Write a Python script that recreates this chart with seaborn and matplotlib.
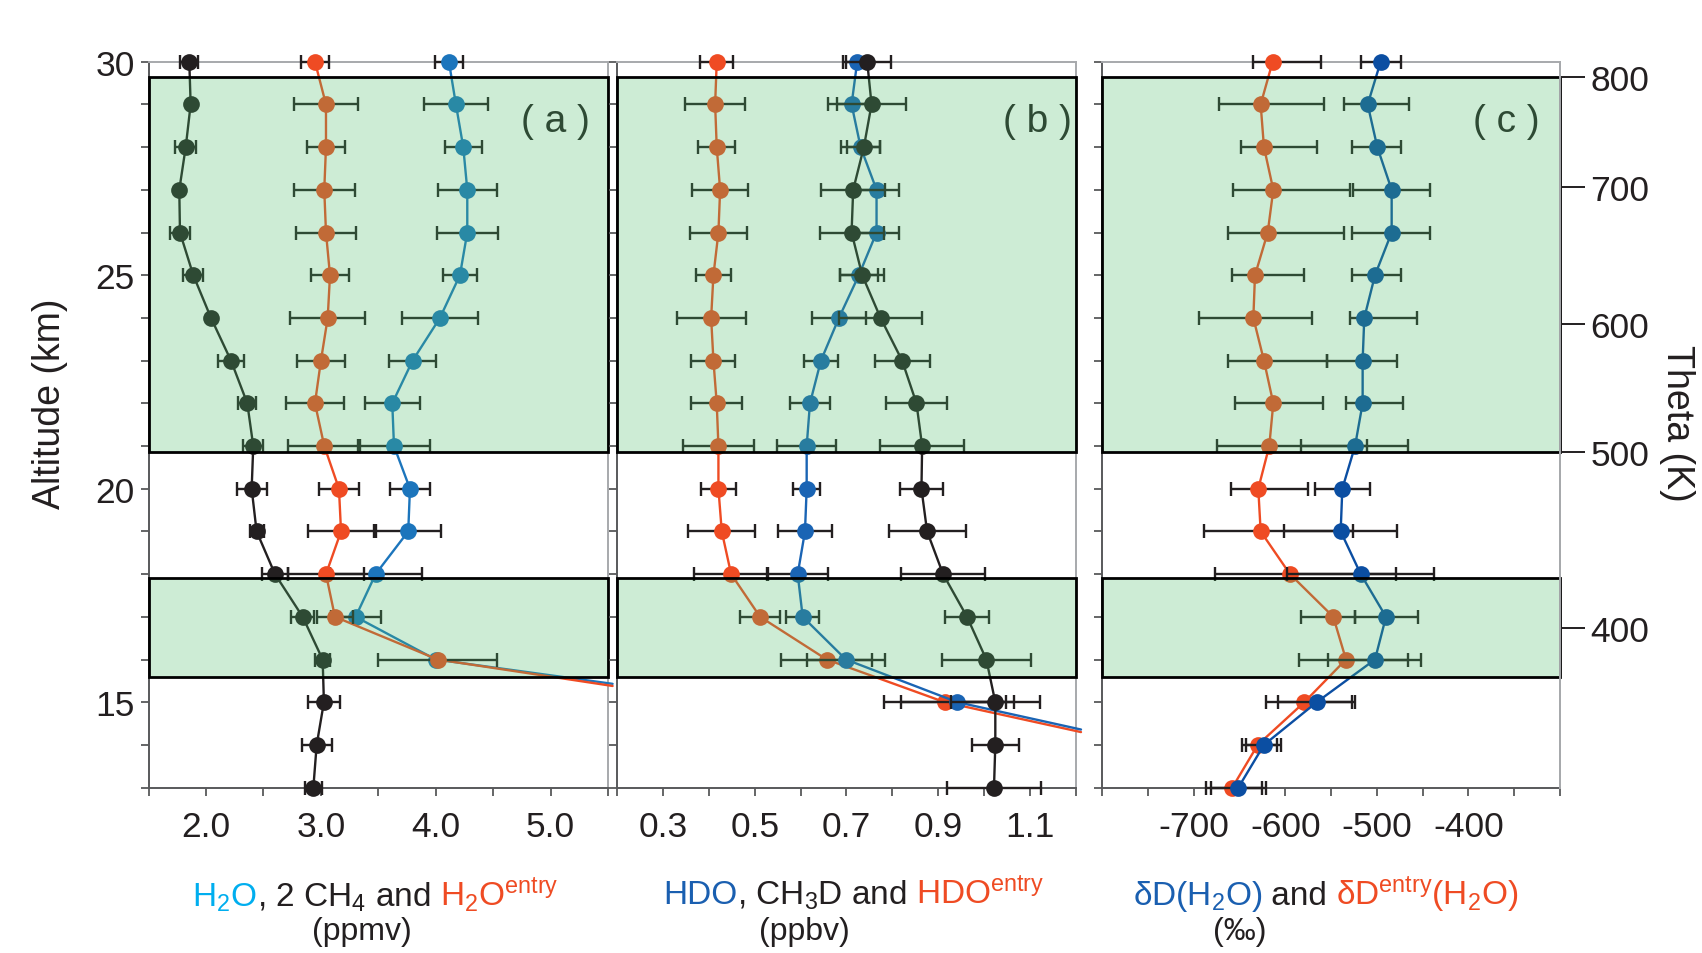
import numpy as np
import pandas as pd
import matplotlib
matplotlib.use("Agg")
import matplotlib.pyplot as plt
import seaborn as sns
from matplotlib.patches import Rectangle
from matplotlib.offsetbox import TextArea, HPacker, AnchoredOffsetbox, DrawingArea

# ---------------- data ----------------
alt = list(range(30, 12, -1))          # 30 ... 13 km
alt_a = alt[:15]                       # 30 ... 16 km
alt_b = alt[:16]                       # 30 ... 15 km

# panel (a)  ppmv
ch4x2 = [1.855, 1.867, 1.824, 1.768, 1.774, 1.890, 2.044, 2.218, 2.360, 2.412,
         2.398, 2.441, 2.601, 2.842, 3.016, 3.027, 2.964, 2.935]
ch4x2_err = [0.078, 0.0, 0.09, 0.0, 0.09, 0.087, 0.0, 0.116, 0.078, 0.087,
             0.13, 0.061, 0.11, 0.10, 0.064, 0.136, 0.13, 0.075]
h2o = [4.115, 4.176, 4.240, 4.275, 4.275, 4.211, 4.037, 3.799, 3.622, 3.637,
       3.776, 3.761, 3.477, 3.303, 4.000]
h2o_err = [0.119, 0.281, 0.16, 0.258, 0.267, 0.151, 0.328, 0.206, 0.238, 0.313,
           0.171, 0.284, 0.40, 0.218, 0.0]
h2o_entry = [2.949, 3.045, 3.045, 3.030, 3.045, 3.080, 3.060, 3.001, 2.949, 3.030,
             3.158, 3.176, 3.045, 3.123, 4.017]
h2o_entry_err = [0.119, 0.279, 0.162, 0.264, 0.264, 0.162, 0.325, 0.209, 0.249, 0.313,
                 0.174, 0.29, 0.334, 0.16, 0.519]
ext_a_x = [5.54]
ext_a_alt_h2o = [15.43]
ext_a_alt_entry = [15.38]

# panel (b)  ppbv
hdo = [0.7236, 0.7113, 0.731, 0.7658, 0.7658, 0.7272, 0.6837, 0.6444, 0.6205, 0.6133,
       0.6133, 0.6096, 0.5937, 0.6046, 0.6989, 0.9422]
hdo_err = [0.0247, 0.051, 0.042, 0.048, 0.048, 0.041, 0.059, 0.038, 0.0436, 0.064,
           0.030, 0.059, 0.067, 0.036, 0.085, 0.123]
hdo_entry = [0.417, 0.4135, 0.417, 0.4244, 0.4207, 0.4098, 0.4048, 0.4098, 0.417, 0.4207,
             0.4207, 0.428, 0.4484, 0.5116, 0.657, 0.9146]
hdo_entry_err = [0.0356, 0.0654, 0.040, 0.0617, 0.0617, 0.0378, 0.0755, 0.048, 0.056, 0.0784,
                 0.039, 0.073, 0.081, 0.0436, 0.0995, 0.133]
ch3d = [0.7454, 0.7549, 0.7381, 0.7148, 0.7113, 0.7345, 0.7745, 0.8216, 0.8529, 0.8653,
        0.8638, 0.8761, 0.9110, 0.9632, 1.0054, 1.0250, 1.0250, 1.0221]
ch3d_err = [0.053, 0.076, 0.036, 0.070, 0.070, 0.048, 0.090, 0.060, 0.067, 0.092,
            0.047, 0.084, 0.092, 0.047, 0.097, 0.097, 0.051, 0.102]
ext_b_x = [1.212]
ext_b_alt_hdo = [14.36]
ext_b_alt_entry = [14.30]

# panel (c)  permil
dD = [-495.9, -510.1, -499.6, -483.9, -483.9, -502.1, -513.8, -515.6, -515.6, -523.9,
      -537.8, -539.6, -517.7, -490.1, -502.1, -565.8, -623.4, -651.4]
dD_lo = [-517.8, -535.6, -527.6, -525.8, -527.6, -527.6, -529.4, -554.9, -534.1, -583.3,
         -567.6, -601.1, -597.9, -524.0, -553.8, -607.7, -643.4, -681.6]
dD_hi = [-474.1, -464.6, -474.1, -442.0, -442.0, -474.1, -455.9, -477.7, -471.9, -465.7,
         -507.6, -477.7, -437.7, -454.8, -451.9, -524.0, -605.2, -621.5]
dD_entry = [-613.9, -627.0, -623.4, -613.2, -619.3, -633.2, -635.0, -623.4, -613.2, -617.6,
            -629.6, -627.0, -595.0, -547.7, -533.8, -579.3, -630.2, -658.0]
dD_entry_lo = [-635.7, -672.5, -648.8, -656.9, -663.0, -658.7, -694.4, -663.0, -655.0, -675.1,
               -659.4, -688.9, -676.9, -583.3, -585.1, -621.2, -647.8, -687.1]
dD_entry_hi = [-561.1, -557.4, -565.8, -529.4, -535.6, -579.3, -571.3, -554.9, -559.3, -511.2,
               -575.7, -525.8, -479.2, -524.0, -465.7, -527.6, -609.5, -625.9]

# potential temperature axis
theta_vals = [800, 700, 600, 500, 400]
theta_alt = [29.64, 27.07, 23.85, 20.85, 16.73]

# shaded altitude layers (km)
layers = [(20.85, 29.63), (15.60, 17.90)]

# axis ticks
xt_a = [1.5, 2.0, 2.5, 3.0, 3.5, 4.0, 4.5, 5.0, 5.5]
xl_a = ["", "2.0", "", "3.0", "", "4.0", "", "5.0", ""]
xt_b = [0.2, 0.3, 0.4, 0.5, 0.6, 0.7, 0.8, 0.9, 1.0, 1.1, 1.2]
xl_b = ["", "0.3", "", "0.5", "", "0.7", "", "0.9", "", "1.1", ""]
xt_c = [-800, -750, -700, -650, -600, -550, -500, -450, -400, -350, -300]
xl_c = ["", "", "-700", "", "-600", "", "-500", "", "-400", "", ""]
yt = list(range(13, 31))
yl = [str(v) if v % 5 == 0 else "" for v in yt]

# ---------------- style ----------------
sns.set_style("ticks")
FONT = ["Liberation Sans", "DejaVu Sans"]
plt.rcParams["font.family"] = FONT
plt.rcParams["axes.unicode_minus"] = False
plt.rcParams["mathtext.fontset"] = "custom"
plt.rcParams["mathtext.rm"] = "Liberation Sans"
plt.rcParams["mathtext.it"] = "Liberation Sans:italic"
plt.rcParams["mathtext.bf"] = "Liberation Sans:bold"

BLACK = "#231f20"
RED = "#ef4b23"
BLUE_A = "#1c75bc"
BLUE_B = "#1a64b4"
BLUE_C = "#0b4ea2"
CYAN = "#00aeef"
TXTBLUE = "#1a5fb0"
SPINE_D = "#58595b"
SPINE_L = "#a7a9ac"

W, H = 1702, 954
fig = plt.figure(figsize=(W / 100, H / 100), dpi=100)

def frac_box(x0, x1):
    return [x0 / W, 1 - 788.6 / H, (x1 - x0) / W, (788.6 - 62.7) / H]

ax_a = fig.add_axes(frac_box(148.5, 608.0))
ax_b = fig.add_axes(frac_box(617.3, 1075.5))
ax_c = fig.add_axes(frac_box(1102.3, 1560.0))

MS = 145

def series(ax, x, y, color, xerr=None, z=3):
    sns.lineplot(x=x, y=y, sort=False, estimator=None, color=color,
                 linewidth=1.7, ax=ax, zorder=z)
    if xerr is not None:
        ax.errorbar(x, y, xerr=xerr, fmt="none", ecolor=BLACK, elinewidth=1.7,
                    capsize=5, capthick=1.7, zorder=z + 0.1, clip_on=False)
    sns.scatterplot(x=x, y=y, color=color, s=MS, linewidth=0, ax=ax,
                    zorder=z + 0.2, clip_on=False)


def extension(ax, x0, y0, xe, ye, color, z):
    ax.plot([x0] + xe, [y0] + ye, color=color, linewidth=1.7, clip_on=False, zorder=z)


# panel (a)
extension(ax_a, h2o[-1], alt_a[-1], ext_a_x, ext_a_alt_h2o, BLUE_A, 2.9)
series(ax_a, h2o, alt_a, BLUE_A, h2o_err, z=3)
extension(ax_a, h2o_entry[-1], alt_a[-1], ext_a_x, ext_a_alt_entry, RED, 3.9)
series(ax_a, h2o_entry, alt_a, RED, h2o_entry_err, z=4)
series(ax_a, ch4x2, alt, BLACK, ch4x2_err, z=5)

# panel (b)
extension(ax_b, hdo_entry[-1], alt_b[-1], ext_b_x, ext_b_alt_entry, RED, 2.9)
series(ax_b, hdo_entry, alt_b, RED, hdo_entry_err, z=3)
extension(ax_b, hdo[-1], alt_b[-1], ext_b_x, ext_b_alt_hdo, BLUE_B, 3.9)
series(ax_b, hdo, alt_b, BLUE_B, hdo_err, z=4)
series(ax_b, ch3d, alt, BLACK, ch3d_err, z=5)

# panel (c)
e_entry = [np.array(dD_entry) - np.array(dD_entry_lo), np.array(dD_entry_hi) - np.array(dD_entry)]
e_dd = [np.array(dD) - np.array(dD_lo), np.array(dD_hi) - np.array(dD)]
series(ax_c, dD_entry, alt, RED, e_entry, z=3)
series(ax_c, dD, alt, BLUE_C, e_dd, z=4)

panels = [(ax_a, (1.5, 5.5), xt_a, xl_a, "( a )", 0.885),
          (ax_b, (0.2, 1.2), xt_b, xl_b, "( b )", 0.916),
          (ax_c, (-800, -300), xt_c, xl_c, "( c )", 0.882)]

for i, (ax, xlim, xt, xl, lab, lx) in enumerate(panels):
    ax.set_xlim(*xlim)
    ax.set_ylim(13, 30)
    ax.set_xticks(xt)
    ax.set_xticklabels(xl)
    ax.set_yticks(yt)
    ax.set_yticklabels(yl if i == 0 else [""] * len(yt))
    ax.set_xlabel("")
    ax.set_ylabel("")
    ax.tick_params(axis="x", direction="out", length=6, width=1.3, color=SPINE_D,
                   labelsize=25.5, pad=10, labelcolor=BLACK)
    ax.tick_params(axis="y", direction="out", length=6, width=1.3, color=SPINE_D,
                   labelsize=25.5, pad=4, labelcolor=BLACK)
    for s in ["left", "bottom"]:
        ax.spines[s].set_color(SPINE_D)
        ax.spines[s].set_linewidth(1.4)
    for s in ["top", "right"]:
        ax.spines[s].set_color(SPINE_L)
        ax.spines[s].set_linewidth(1.4)
    tr = ax.get_yaxis_transform()
    for (y0, y1) in layers:
        ax.add_patch(Rectangle((0, y0), 1, y1 - y0, transform=tr,
                               facecolor=(0.30, 0.74, 0.42), alpha=0.28,
                               linewidth=0, zorder=10, clip_on=False))
        ax.add_patch(Rectangle((0, y0), 1, y1 - y0, transform=tr, fill=False,
                               edgecolor="black", linewidth=2.0, zorder=11,
                               clip_on=False))
    ax.text(lx, 0.918, lab, transform=ax.transAxes, ha="center", va="center",
            fontsize=28, color=BLACK, zorder=9)

# theta axis
ax_t = ax_c.twinx()
ax_t.set_ylim(13, 30)
ax_t.set_yticks(theta_alt)
ax_t.set_yticklabels([str(v) for v in theta_vals])
ax_t.tick_params(axis="y", direction="out", length=18, width=1.4, color=BLACK,
                 labelsize=25.5, pad=4, labelcolor=BLACK)
for s in ["left", "top", "bottom"]:
    ax_t.spines[s].set_visible(False)
ax_t.spines["right"].set_color(SPINE_L)
ax_t.spines["right"].set_linewidth(1.4)

# axis titles
fig.text(50 / W, 1 - 404 / H, "Altitude (km)", rotation=90, ha="center",
         va="center", fontsize=27, color=BLACK)
fig.text(1677 / W, 1 - 423 / H, "Theta (K)", rotation=270, ha="center",
         va="center", fontsize=27, color=BLACK)

# coloured x-axis titles
FS = 24
SPACE = 0.278 * FS

def colored_line(parts, cx, cy):
    children = []
    for t, c in parts:
        if t == " ":
            children.append(DrawingArea(SPACE, 1))
        else:
            children.append(TextArea(t, textprops=dict(color=c, fontsize=FS, family=FONT)))
    pack = HPacker(children=children, align="baseline", pad=0, sep=0)
    box = AnchoredOffsetbox(loc="center", child=pack, pad=0, borderpad=0,
                            frameon=False, bbox_to_anchor=(cx, cy),
                            bbox_transform=fig.transFigure)
    fig.add_artist(box)

LINE1_Y = 1 - 895 / H
colored_line([("H$_2$O", CYAN), (", 2 CH$_4$ and", BLACK), (" ", BLACK),
              (r"H$_2$O$^{\mathrm{entry}}$", RED)], 375 / W, LINE1_Y)
colored_line([("HDO", TXTBLUE), (", CH$_3$D and", BLACK), (" ", BLACK),
              (r"HDO$^{\mathrm{entry}}$", RED)], 854 / W, LINE1_Y)
colored_line([("δD(H$_2$O)", TXTBLUE), (" and ", BLACK),
              (r"δD$^{\mathrm{entry}}$(H$_2$O)", RED)], 1326 / W, LINE1_Y)

for txt, cx in [("(ppmv)", 362), ("(ppbv)", 804), ("(‰)", 1240)]:
    fig.text(cx / W, 1 - 917 / H, txt, ha="center", va="top", fontsize=23, color=BLACK)

fig.savefig("out.png", dpi=100)
